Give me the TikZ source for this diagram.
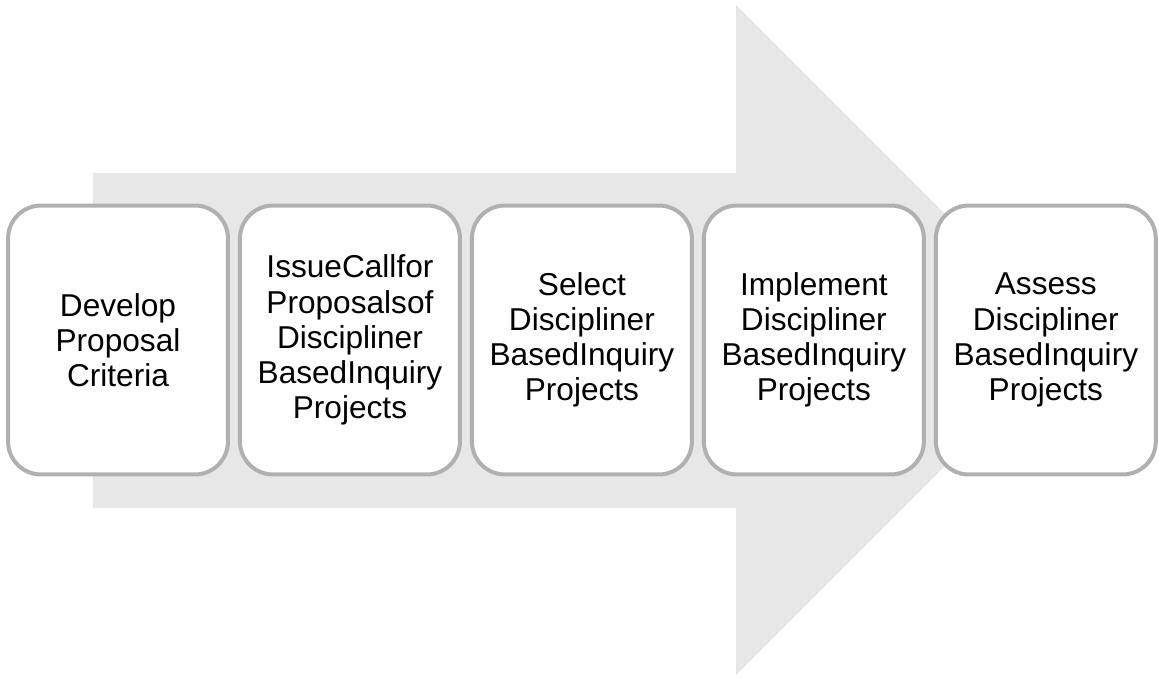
\documentclass[tikz,border=0pt]{standalone}
\usepackage{fontspec}
\setmainfont{Liberation Sans}
\usetikzlibrary{positioning}
\definecolor{arrowgray}{HTML}{E7E7E7}
\definecolor{boxgray}{HTML}{B0B0B0}

\begin{document}
\begin{tikzpicture}[x=0.02cm, y=-0.02cm, node distance=4.64cm,
  stage/.style={rectangle, rounded corners=0.66cm, draw=boxgray, line width=0.08cm,
    fill=white, minimum width=4.4cm, minimum height=5.38cm, text width=4cm,
    align=center, font=\fontsize{18}{20}\selectfont}]
  \useasboundingbox (0,0) rectangle (1159,679);

  % big process arrow behind the steps
  \fill[arrowgray] (93,173) -- (736,173) -- (736,5) -- (1071,340)
    -- (736,675) -- (736,508) -- (93,508) -- cycle;

  \node (develop) [stage] at (118,340) {Develop\\Proposal\\Criteria};
  \node (issue) [stage, right of=develop] {IssueCallfor\\Proposalsof\\Discipliner\\BasedInquiry\\Projects};
  \node (select) [stage, right of=issue] {Select\\Discipliner\\BasedInquiry\\Projects};
  \node (implement) [stage, right of=select] {Implement\\Discipliner\\BasedInquiry\\Projects};
  \node (assess) [stage, right of=implement] {Assess\\Discipliner\\BasedInquiry\\Projects};
\end{tikzpicture}
\end{document}
